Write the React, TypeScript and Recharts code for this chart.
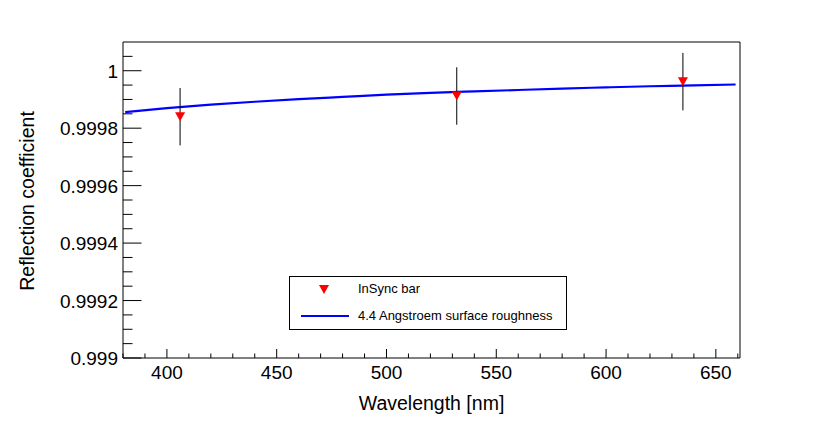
import React from "react";
import {
  ComposedChart,
  Line,
  Scatter,
  ErrorBar,
  XAxis,
  YAxis,
  ReferenceArea,
} from "recharts";

// Modellkurve: 4.4 Angstroem Oberflaechenrauigkeit
const curveWl = [381, 400, 420, 440, 460, 480, 500, 520, 540, 560, 580, 600, 620, 640, 659];
const curveR = [
  0.999856, 0.99987, 0.999882, 0.999892, 0.999901, 0.999909, 0.999917, 0.999923,
  0.999928, 0.999933, 0.999938, 0.999942, 0.999946, 0.999949, 0.999952,
];

// Messpunkte InSync bar
const measWl = [406, 532, 635];
const measR = [0.99984, 0.999912, 0.999962];
const measErr = [0.0001, 0.0001, 0.0001];

const xMajor = [400, 450, 500, 550, 600, 650];
const xMinor = [380, 390, 410, 420, 430, 440, 460, 470, 480, 490, 510, 520, 530, 540, 560, 570, 580, 590, 610, 620, 630, 640, 660];
const yMajor = [0.999, 0.9992, 0.9994, 0.9996, 0.9998, 1];
const yMajorLabels = ["0.999", "0.9992", "0.9994", "0.9996", "0.9998", "1"];
const yMinor = [
  0.99905, 0.9991, 0.99915, 0.99925, 0.9993, 0.99935, 0.99945, 0.9995, 0.99955,
  0.99965, 0.9997, 0.99975, 0.99985, 0.9999, 0.99995, 1.00005,
];

const seriesNames = ["InSync bar", "4.4 Angstroem surface roughness"];

const curve = curveWl.map((wl, i) => ({ wl, r: curveR[i] }));
const meas = measWl.map((wl, i) => ({ wl, r: measR[i], err: measErr[i] }));

const FONT = "'Liberation Sans', Arial, Helvetica, sans-serif";
const X_DOMAIN: [number, number] = [380, 661];
const Y_DOMAIN: [number, number] = [0.999, 1.0001];

function XTick(props: any) {
  const { x, y, payload } = props;
  const major = xMajor.includes(payload.value);
  return (
    <g>
      <line x1={x} x2={x} y1={y} y2={y - (major ? 9 : 4.5)} stroke="#000" />
      {major && (
        <text x={x} y={y + 21} textAnchor="middle" fontSize={19} fontFamily={FONT} fill="#000">
          {payload.value}
        </text>
      )}
    </g>
  );
}

function YTick(props: any) {
  const { x, y, payload } = props;
  const idx = yMajor.findIndex((v) => Math.abs(v - payload.value) < 1e-9);
  const major = idx >= 0;
  return (
    <g>
      <line x1={x} x2={x + (major ? 18.5 : 9.5)} y1={y} y2={y} stroke="#000" />
      {major && (
        <text x={x - 5} y={y + 7} textAnchor="end" fontSize={19} fontFamily={FONT} fill="#000">
          {yMajorLabels[idx]}
        </text>
      )}
    </g>
  );
}

function DownTriangle(props: any) {
  const { cx, cy } = props;
  if (cx == null || cy == null) return null;
  return <polygon points={`${cx - 5},${cy - 4.5} ${cx + 5},${cy - 4.5} ${cx},${cy + 4.5}`} fill="#ff0000" />;
}

function LegendBox() {
  return (
    <div
      style={{
        position: "absolute",
        left: 289,
        top: 276,
        width: 278,
        height: 54,
        boxSizing: "border-box",
        border: "1px solid #000",
        background: "#fff",
        fontFamily: FONT,
        fontSize: 13,
        color: "#000",
      }}
    >
      <svg width={70} height={52} style={{ position: "absolute", left: 0, top: 0 }}>
        <polygon points="29,8 39,8 34,17" fill="#ff0000" />
        <line x1={11} x2={59} y1={39} y2={39} stroke="#0000ff" strokeWidth={2} />
      </svg>
      <div style={{ position: "absolute", left: 68, top: 4, lineHeight: "16px", whiteSpace: "nowrap" }}>
        {seriesNames[0]}
      </div>
      <div style={{ position: "absolute", left: 68, top: 31, lineHeight: "16px", whiteSpace: "nowrap" }}>
        {seriesNames[1]}
      </div>
    </div>
  );
}

export default function App() {
  return (
    <div style={{ position: "absolute", left: 0, top: 0, width: 822, height: 422, background: "#fff" }}>
      <ComposedChart width={822} height={422} margin={{ top: 42, right: 82, bottom: 63, left: 122 }}>
        <XAxis
          dataKey="wl"
          type="number"
          domain={X_DOMAIN}
          ticks={[...xMajor, ...xMinor]}
          allowDataOverflow
          height={1}
          tickSize={0}
          tickMargin={0}
          axisLine={false}
          tickLine={false}
          interval={0}
          tick={<XTick />}
          label={{
            content: (p: any) => (
              <text
                x={p.viewBox.x + p.viewBox.width / 2}
                y={p.viewBox.y + 52}
                textAnchor="middle"
                fontSize={19.5}
                fontFamily={FONT}
                fill="#000"
              >
                Wavelength [nm]
              </text>
            ),
          }}
        />
        <YAxis
          dataKey="r"
          type="number"
          domain={Y_DOMAIN}
          ticks={[...yMajor, ...yMinor]}
          allowDataOverflow
          width={1}
          tickSize={0}
          tickMargin={0}
          axisLine={false}
          tickLine={false}
          interval={0}
          tick={<YTick />}
          label={{
            content: (p: any) => {
              const cy = p.viewBox.y + p.viewBox.height / 2 + 1;
              return (
                <text
                  x={34}
                  y={cy}
                  transform={`rotate(-90 34 ${cy})`}
                  textAnchor="middle"
                  fontSize={19.5}
                  fontFamily={FONT}
                  fill="#000"
                >
                  Reflection coefficient
                </text>
              );
            },
          }}
        />
        <ReferenceArea
          x1={X_DOMAIN[0]}
          x2={X_DOMAIN[1]}
          y1={Y_DOMAIN[0]}
          y2={Y_DOMAIN[1]}
          fill="none"
          stroke="#000"
          strokeWidth={1}
          ifOverflow="visible"
        />
        <Line
          data={curve}
          dataKey="r"
          type="monotone"
          stroke="#0000ff"
          strokeWidth={2.2}
          dot={false}
          activeDot={false}
          isAnimationActive={false}
        />
        <Scatter data={meas} dataKey="r" shape={<DownTriangle />} isAnimationActive={false}>
          <ErrorBar dataKey="err" direction="y" width={0} stroke="#000" strokeWidth={1} isAnimationActive={false} />
        </Scatter>
      </ComposedChart>
      <LegendBox />
    </div>
  );
}
